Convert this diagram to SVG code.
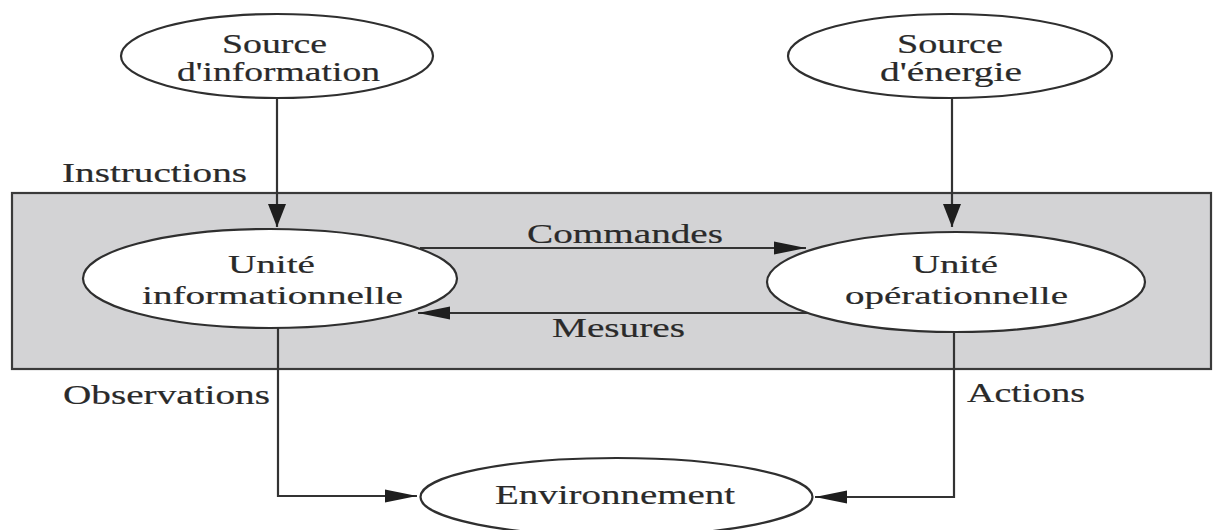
<svg xmlns="http://www.w3.org/2000/svg" width="1213" height="530" viewBox="0 0 1213 530">
  <style>
    .node { fill: #ffffff; stroke: #2f2f2f; stroke-width: 2.2; }
    .frame { fill: #d3d3d5; stroke: #3a3a3a; stroke-width: 2.2; }
    .link { fill: none; stroke: #333333; stroke-width: 2.2; }
    .lbl { font-family: "Liberation Serif", "Times New Roman", serif; font-size: 28px; fill: #2a2a2a; stroke: #2a2a2a; stroke-width: 0.2; }
    .unit { font-size: 26px; }
  </style>
  <defs>
    <!-- horizontal arrows are drawn longer and flatter than vertical ones -->
    <marker id="arrow-h" markerUnits="userSpaceOnUse" markerWidth="32" markerHeight="14" refX="32" refY="7" orient="auto">
      <path d="M0,0.5 L32,7 L0,13.5 z" fill="#1e1e1e"/>
    </marker>
    <marker id="arrow-v" markerUnits="userSpaceOnUse" markerWidth="23" markerHeight="19" refX="23" refY="9.5" orient="auto">
      <path d="M0,0.5 L23,9.5 L0,18.5 z" fill="#1e1e1e"/>
    </marker>
  </defs>

  <rect width="1213" height="530" fill="#ffffff"/>

  <!-- system boundary -->
  <g id="system">
    <rect class="frame" x="12" y="193" width="1199" height="176"/>
  </g>

  <!-- connectors -->
  <g id="connectors">
    <path class="link" d="M277,98 V227" marker-end="url(#arrow-v)"/>
    <path class="link" d="M952,98 V227" marker-end="url(#arrow-v)"/>
    <path class="link" d="M420,248 H806" marker-end="url(#arrow-h)"/>
    <path class="link" d="M808,313 H418" marker-end="url(#arrow-h)"/>
    <path class="link" d="M278,328 V496 H417" marker-end="url(#arrow-h)"/>
    <path class="link" d="M954,332 V497 H815" marker-end="url(#arrow-h)"/>
  </g>

  <g id="source-information">
    <ellipse class="node" cx="277" cy="56" rx="156" ry="42"/>
    <text class="lbl" x="222" y="53" textLength="105" lengthAdjust="spacingAndGlyphs">Source</text>
    <text class="lbl" x="177" y="81" textLength="203" lengthAdjust="spacingAndGlyphs">d'information</text>
  </g>

  <g id="source-energie">
    <ellipse class="node" cx="950" cy="56" rx="162" ry="42"/>
    <text class="lbl" x="897" y="53" textLength="106" lengthAdjust="spacingAndGlyphs">Source</text>
    <text class="lbl" x="880" y="81" textLength="142" lengthAdjust="spacingAndGlyphs">d'énergie</text>
  </g>

  <g id="unite-informationnelle">
    <ellipse class="node" cx="270" cy="278.5" rx="187" ry="49.5"/>
    <text class="lbl unit" x="228" y="273" textLength="87" lengthAdjust="spacingAndGlyphs">Unité</text>
    <text class="lbl unit" x="142" y="304" textLength="261" lengthAdjust="spacingAndGlyphs">informationnelle</text>
  </g>

  <g id="unite-operationnelle">
    <ellipse class="node" cx="956" cy="282" rx="189" ry="50"/>
    <text class="lbl unit" x="912" y="273" textLength="86" lengthAdjust="spacingAndGlyphs">Unité</text>
    <text class="lbl unit" x="845" y="304" textLength="223" lengthAdjust="spacingAndGlyphs">opérationnelle</text>
  </g>

  <g id="environnement">
    <ellipse class="node" cx="616.5" cy="497" rx="196" ry="39"/>
    <text class="lbl" x="495" y="504" textLength="240" lengthAdjust="spacingAndGlyphs">Environnement</text>
  </g>

  <!-- flow labels -->
  <g id="labels">
    <text class="lbl" x="62" y="182" textLength="185" lengthAdjust="spacingAndGlyphs">Instructions</text>
    <text class="lbl" x="527" y="243" textLength="196" lengthAdjust="spacingAndGlyphs">Commandes</text>
    <text class="lbl" x="552" y="337" textLength="133" lengthAdjust="spacingAndGlyphs">Mesures</text>
    <text class="lbl" x="63" y="404" textLength="207" lengthAdjust="spacingAndGlyphs">Observations</text>
    <text class="lbl" x="967" y="402" textLength="118" lengthAdjust="spacingAndGlyphs">Actions</text>
  </g>
</svg>
